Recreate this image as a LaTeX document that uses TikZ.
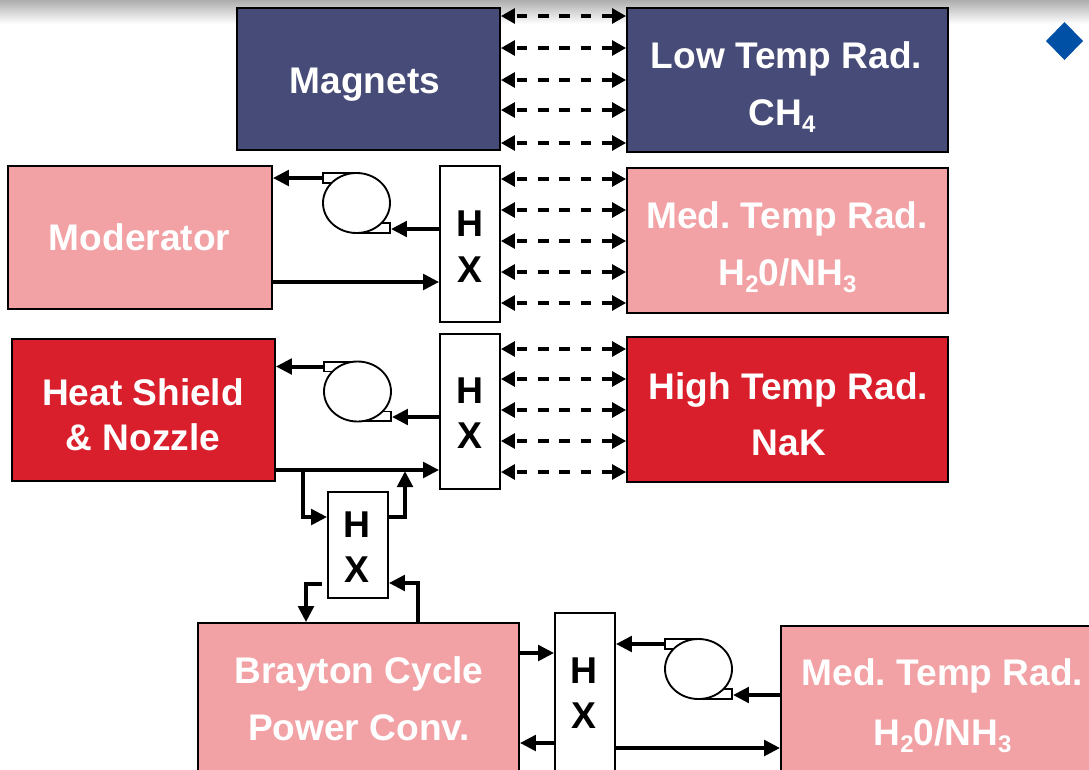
\documentclass[tikz,border=0pt]{standalone}
\usepackage{fontspec}
\setmainfont{Liberation Sans}
\usetikzlibrary{arrows.meta,shapes.geometric}
\definecolor{navyc}{RGB}{71,75,119}
\definecolor{pinkc}{RGB}{242,162,165}
\definecolor{redc}{RGB}{218,31,44}
\definecolor{bluec}{RGB}{0,80,165}
\newcommand{\lowsub}[1]{\raisebox{-5.5pt}{\fontsize{18}{18}\selectfont #1}}
\frenchspacing
\begin{document}
\begin{tikzpicture}[x=0.75pt,y=-0.75pt,
  blk/.style n args={2}{draw=black, line width=1.3pt, rectangle, inner sep=0pt,
    minimum width=#1*0.75pt, minimum height=#2*0.75pt},
  hxbox/.style n args={2}{draw=black, line width=1.3pt, fill=white, rectangle, inner sep=0pt,
    minimum width=#1*0.75pt, minimum height=#2*0.75pt},
  wtxt/.style={text=white, anchor=base, inner sep=0pt, font=\bfseries\fontsize{27.8}{30}\selectfont},
  ktxt/.style={text=black, anchor=base, inner sep=0pt, font=\bfseries\fontsize{28}{30}\selectfont},
  arr/.style={line width=3pt, -{Triangle[length=12pt,width=11.5pt]}},
  darr/.style={line width=2.6pt, dash pattern=on 8pt off 8pt, dash phase=-2pt,
    {Triangle[length=10.5pt,width=11pt]}-{Triangle[length=10.5pt,width=11pt]}},
  pump/.style={ellipse, draw=black, line width=1.4pt, fill=white, inner sep=0pt,
    minimum width=50.25pt, minimum height=45pt},
  pumprect/.style={draw=black, line width=1.3pt, fill=white}
]
\useasboundingbox (0,0) rectangle (1089,769);
\begin{scope}
\clip (0,0) rectangle (1089,769);
% top shading
\shade[top color=black!32, bottom color=white] (0,0) rectangle (1089,24);
% diamond bullet
\fill[bluec] (1064.5,22) -- (1083,41) -- (1064.5,60) -- (1046,41) -- cycle;

% boxes
\node[blk={263}{142}, fill=navyc] (mag) at (368.5,79) {};
\node[blk={321}{144}, fill=navyc] (ltr) at (787.5,80) {};
\node[blk={264}{143}, fill=pinkc] (mod) at (140,237.5) {};
\node[hxbox={60}{156}] (hx1) at (470,244) {};
\node[blk={321}{145}, fill=pinkc] (mtr1) at (787.5,240.5) {};
\node[blk={263}{142}, fill=redc] (hs) at (143.5,410) {};
\node[hxbox={60}{155}] (hx2) at (470,411.5) {};
\node[blk={321}{145}, fill=redc] (htr) at (787.5,409.5) {};
\node[hxbox={60}{106}] (hx3) at (358,545) {};
\node[blk={321}{152}, fill=pinkc] (bc) at (358.5,699) {};
\node[hxbox={60}{162}] (hx4) at (585,694) {};
\node[blk={319}{149}, fill=pinkc] (mtr2) at (940.5,700.5) {};

% texts
\node[wtxt] (tmag) at (365,93) {Magnets};
\node[wtxt] (tltra) at (786.5,68) {Low Temp Rad.};
\node[wtxt] (tltrb) at (782,125.5) {CH\lowsub{4}};
\node[wtxt] (tmod) at (139.5,250) {Moderator};
\node[wtxt] (tmta) at (787,228) {Med. Temp Rad.};
\node[wtxt] (tmtb) at (787.5,285) {H\lowsub{2}0/NH\lowsub{3}};
\node[wtxt] (thsa) at (143,405) {Heat Shield};
\node[wtxt] (thsb) at (143,450) {\& Nozzle};
\node[wtxt] (thta) at (788.5,399) {High Temp Rad.};
\node[wtxt] (thtb) at (789,455) {NaK};
\node[wtxt] (tbca) at (359,683) {Brayton Cycle};
\node[wtxt] (tbcb) at (359,740) {Power Conv.};
\node[wtxt] (tmsa) at (942.5,685) {Med. Temp Rad.};
\node[wtxt] (tmsb) at (942.5,745) {H\lowsub{2}0/NH\lowsub{3}};
\node[ktxt] (h1a) at (470,236) {H};
\node[ktxt] (h1b) at (470,282) {X};
\node[ktxt] (h2a) at (470,403) {H};
\node[ktxt] (h2b) at (470,448) {X};
\node[ktxt] (h3a) at (357,537) {H};
\node[ktxt] (h3b) at (357,582) {X};
\node[ktxt] (h4a) at (584,683) {H};
\node[ktxt] (h4b) at (584,728) {X};

% pumps
\draw[pumprect] (323,173) rectangle (356.5,183);
\draw[pumprect] (356.5,223) rectangle (390,233);
\node[pump] (p1) at (356.5,203) {};
\draw[pumprect] (324,362) rectangle (357.5,371.5);
\draw[pumprect] (357.5,411.5) rectangle (391,421);
\node[pump] (p2) at (357.5,391.5) {};
\draw[pumprect] (665,639) rectangle (698.5,649);
\draw[pumprect] (698.5,689) rectangle (732,699);
\node[pump] (p3) at (698.5,669) {};

% dashed radiator links
\foreach \yy in {16,48,80,110,143}
  \draw[darr] (mag.east |- 0,\yy) -- (ltr.west |- 0,\yy);
\foreach \yy in {179,210,241,272,303}
  \draw[darr] (hx1.east |- 0,\yy) -- (mtr1.west |- 0,\yy);
\foreach \yy in {349,379,410,441,472}
  \draw[darr] (hx2.east |- 0,\yy) -- (htr.west |- 0,\yy);

% moderator loop
\draw[arr] (hx1.west |- 0,229) -- (p1.east |- 0,229);
\draw[arr] (p1.west |- 0,178) -- (mod.east |- 0,178);
\draw[arr] (mod.east |- 0,282) -- (hx1.west |- 0,282);

% heat shield loop
\draw[arr] (hx2.west |- 0,417) -- (p2.east |- 0,417);
\draw[arr] (p2.west |- 0,366.5) -- (hs.east |- 0,366.5);
\draw[arr] (hs.east |- 0,470) -- (hx2.west |- 0,470);
\coordinate (j1) at (303,470);
\coordinate (j2) at (405,471);
\draw[arr] (j1) |- (hx3.west |- 0,517);
\draw[arr] (hx3.east |- 0,517) -| (j2);
\draw[arr] ([xshift=-3.75pt]hx3.west |- 0,584) -| (bc.north -| 306,0);
\draw[arr] (bc.north -| 418,0) |- (hx3.east |- 0,583);

% brayton loop
\draw[arr] (bc.east |- 0,653) -- (hx4.west |- 0,653);
\draw[arr] (hx4.west |- 0,743) -- (bc.east |- 0,743);
\draw[arr] (p3.west |- 0,644) -- (hx4.east |- 0,644);
\draw[arr] (mtr2.west |- 0,695) -- (p3.east |- 0,695);
\draw[arr] (hx4.east |- 0,748) -- (mtr2.west |- 0,748);
\end{scope}
\end{tikzpicture}
\end{document}
